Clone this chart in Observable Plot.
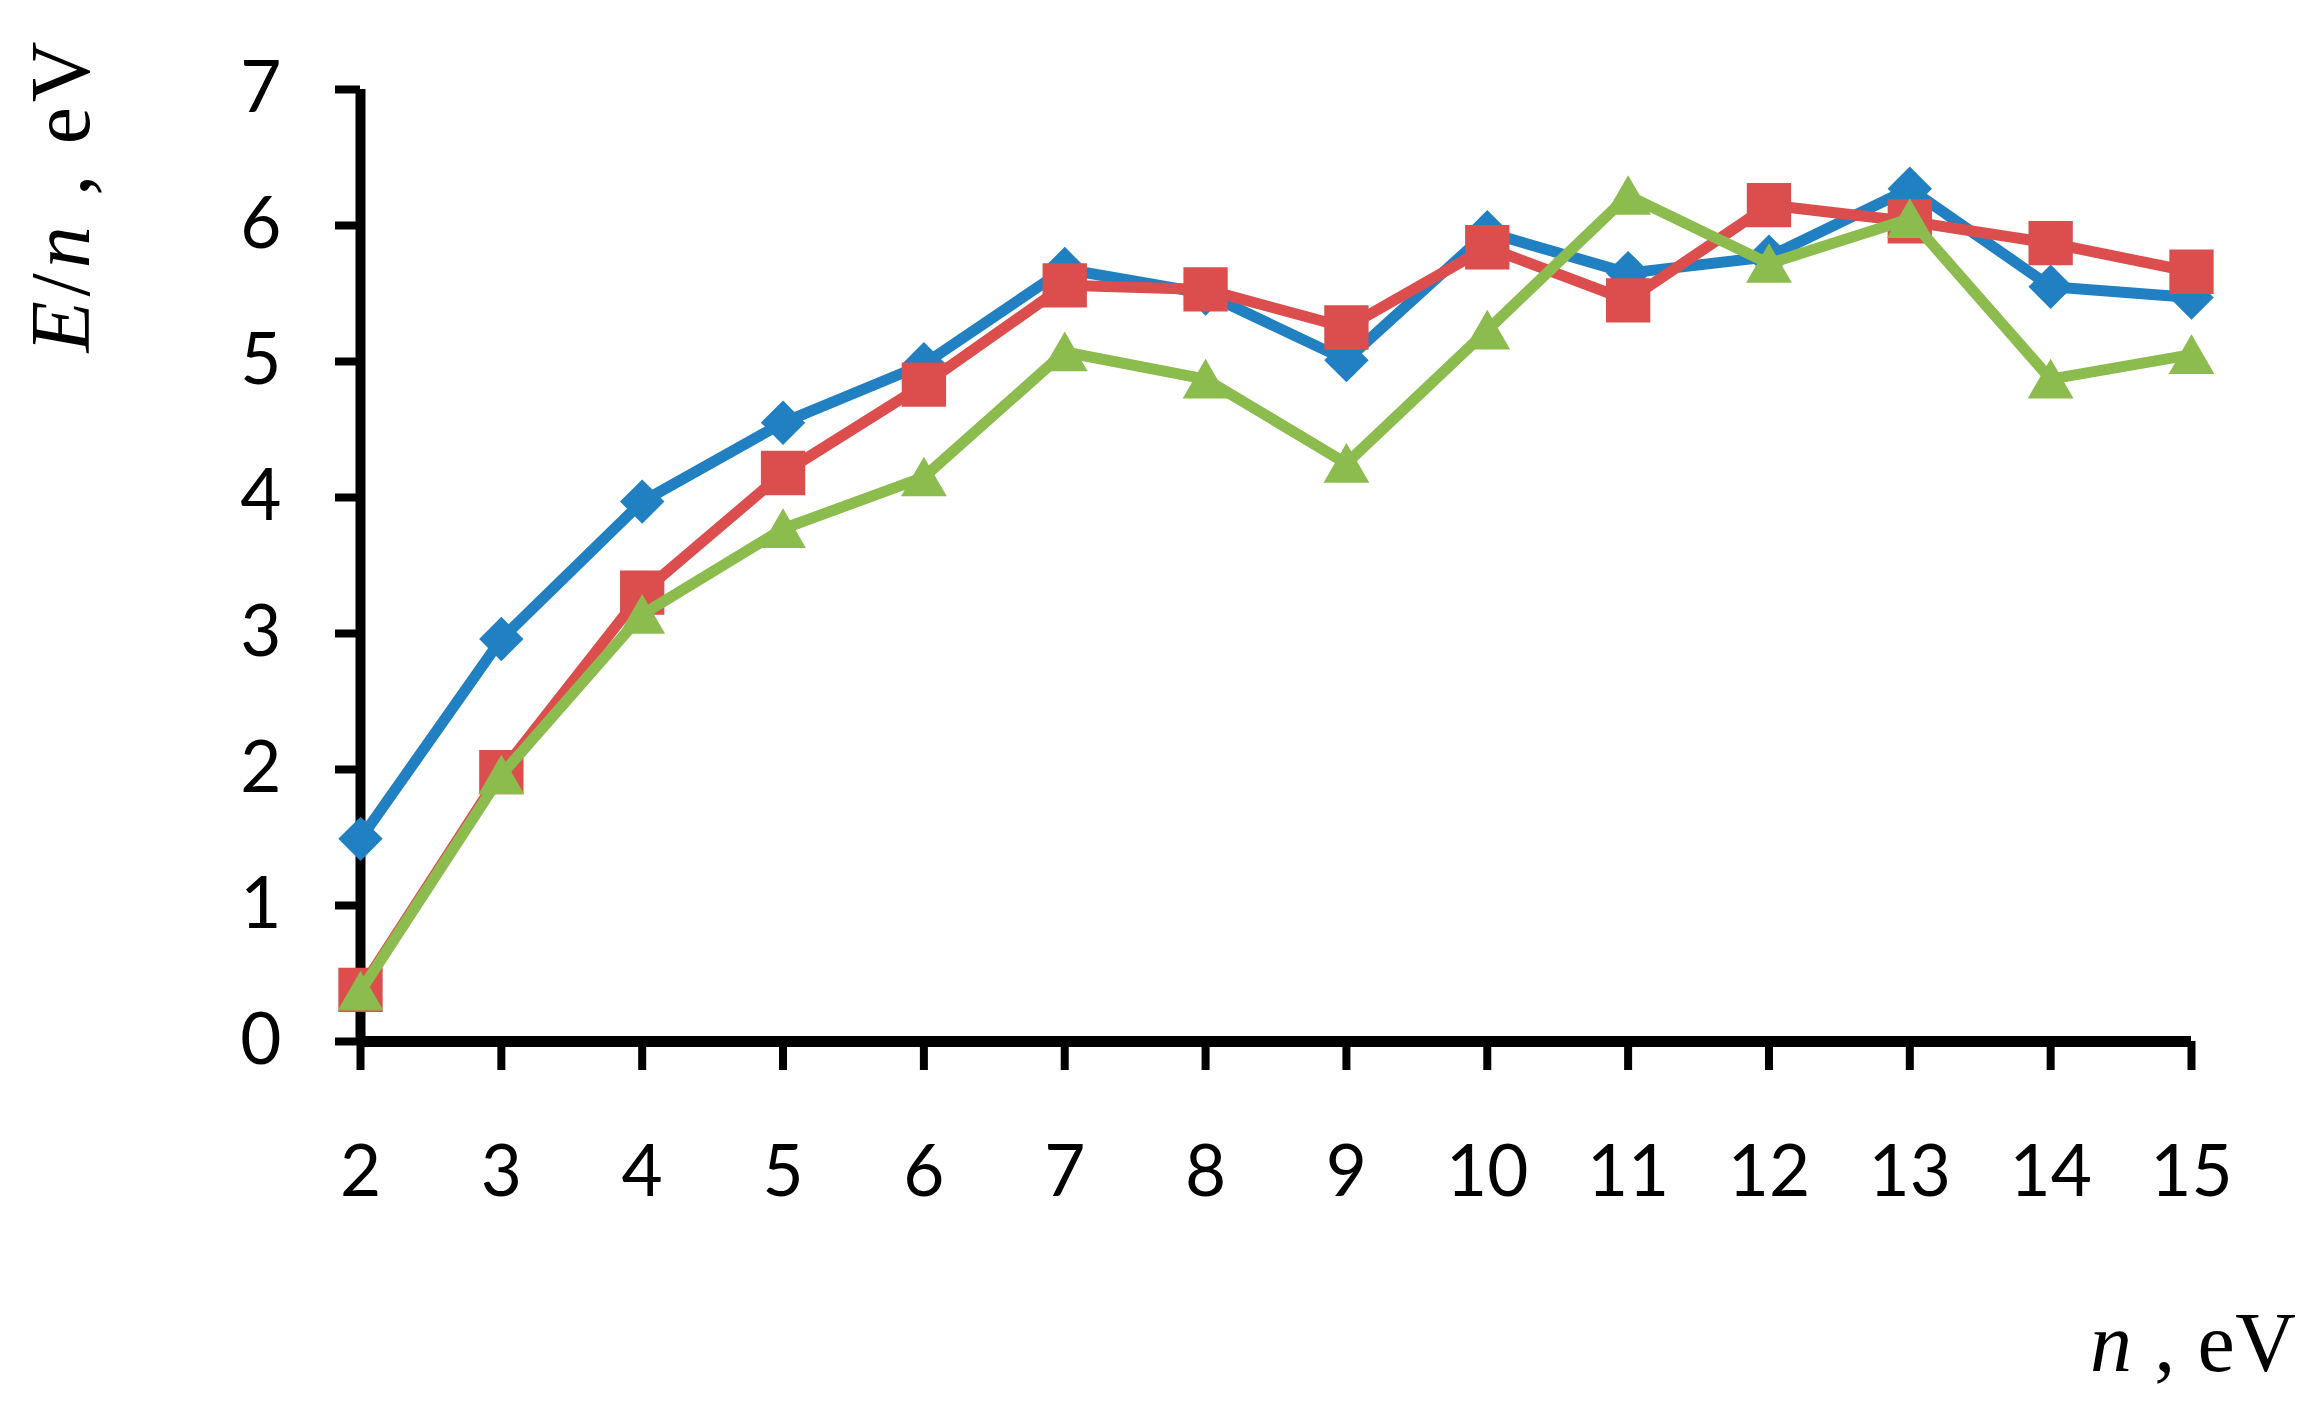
<!DOCTYPE html>
<html><head><meta charset="utf-8">
<script src="https://cdn.jsdelivr.net/npm/d3@7"></script>
<script src="https://cdn.jsdelivr.net/npm/@observablehq/plot@0.6"></script>
<style>body{margin:0;background:#fff;overflow:hidden}</style>
</head><body><div id="chart"></div>
<script>
const nValues = [2, 3, 4, 5, 6, 7, 8, 9, 10, 11, 12, 13, 14, 15];
const blueSeries  = [1.49, 2.96, 3.97, 4.55, 4.98, 5.68, 5.50, 5.01, 5.95, 5.65, 5.77, 6.27, 5.55, 5.47];
const redSeries   = [0.38, 1.98, 3.30, 4.18, 4.83, 5.56, 5.53, 5.25, 5.84, 5.45, 6.15, 6.03, 5.87, 5.66];
const greenSeries = [0.37, 1.96, 3.14, 3.77, 4.15, 5.07, 4.87, 4.25, 5.23, 6.22, 5.72, 6.05, 4.87, 5.05];
const yTicks = [0, 1, 2, 3, 4, 5, 6, 7];
const xTicks = nValues;

const BLUE = "#2180c2", RED = "#dc4d4d", GREEN = "#8cbb4e";
const rows = vals => nValues.map((n, i) => ({n, v: vals[i]}));
const A = rows(blueSeries), B = rows(redSeries), C = rows(greenSeries);

const chart = Plot.plot({
  width: 2322, height: 1411,
  marginLeft: 360, marginRight: 131, marginTop: 89, marginBottom: 370,
  x: {domain: [2, 15]},
  y: {domain: [0, 7]},
  style: {fontFamily: "Lato, 'Open Sans', sans-serif", color: "#000", background: "#fff"},
  marks: [
    Plot.axisY({ticks: yTicks, tickSize: 25, tickPadding: 54, strokeWidth: 8, fontSize: 71, label: null, tickFormat: d => String(d)}),
    Plot.axisX({ticks: xTicks, tickSize: 29, tickPadding: 75, strokeWidth: 8, fontSize: 71, label: null, tickFormat: d => String(d)}),
    Plot.ruleX([2], {stroke: "#000", strokeWidth: 10}),
    Plot.ruleY([0], {stroke: "#000", strokeWidth: 11}),
    Plot.line(A, {x: "n", y: "v", stroke: BLUE, strokeWidth: 11}),
    Plot.dot(A, {x: "n", y: "v", symbol: "diamond2", r: 20, fill: BLUE, stroke: "none"}),
    Plot.line(B, {x: "n", y: "v", stroke: RED, strokeWidth: 11}),
    Plot.dot(B, {x: "n", y: "v", symbol: "square", r: 25, fill: RED, stroke: "none"}),
    Plot.line(C, {x: "n", y: "v", stroke: GREEN, strokeWidth: 11}),
    Plot.dot(C, {x: "n", y: "v", symbol: "triangle", r: 17, dy: 6, fill: GREEN, stroke: "none"})
  ]
});

const svg = d3.select(chart);
// y-axis title
const yl = svg.append("text")
  .attr("transform", "translate(89,197) rotate(-90)")
  .attr("text-anchor", "middle")
  .attr("font-family", "'Liberation Serif', 'DejaVu Serif', serif")
  .attr("font-size", 84)
  .attr("fill", "#000")
  .attr("textLength", 311)
  .attr("lengthAdjust", "spacing");
yl.append("tspan").attr("font-style", "italic").text("E");
yl.append("tspan").text("/");
yl.append("tspan").attr("font-style", "italic").text("n");
yl.append("tspan").text(" , eV");
// x-axis title
const xl = svg.append("text")
  .attr("x", 2090).attr("y", 1371)
  .attr("text-anchor", "start")
  .attr("font-family", "'Liberation Serif', 'DejaVu Serif', serif")
  .attr("font-size", 84)
  .attr("fill", "#000")
  .attr("textLength", 206)
  .attr("lengthAdjust", "spacing");
xl.append("tspan").attr("font-style", "italic").text("n");
xl.append("tspan").text(" , eV");

document.getElementById("chart").appendChild(chart);
</script>
</body></html>
